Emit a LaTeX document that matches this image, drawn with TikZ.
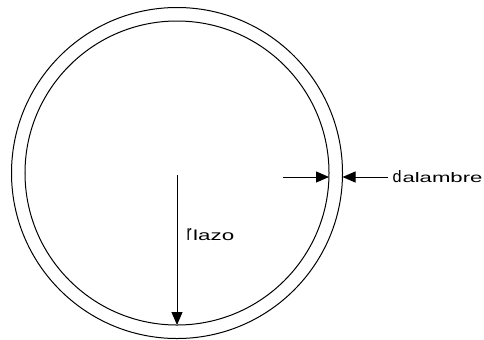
\documentclass[tikz,border=0pt]{standalone}
\usepackage{fontspec}
\setmainfont{Liberation Sans}
\usetikzlibrary{arrows.meta,calc}
\tikzset{
  ring/.style={circle,draw=black,line width=1bp,inner sep=0pt,outer sep=0pt},
  arr/.style={line width=1bp,-{Triangle[length=13bp,width=11bp]}},
  lab/.style={inner sep=0pt}
}
\begin{document}
\begin{tikzpicture}[x=1bp,y=-1bp]
\useasboundingbox[fill=white] (0,0) rectangle (484,339);
\coordinate (c) at (177,173);
\node[ring,minimum size=331bp] (outer) at (c) {};
\node[ring,minimum size=304bp] (inner) at (c) {};
\coordinate (top) at (177,175);
\draw[arr] (top) -- (inner.south);
\coordinate (dl) at (283,177);
\coordinate (dr) at (388,177);
\draw[arr] (dl) -- (dl -| inner.east);
\draw[arr] (dr) -- (dr -| outer.east);
\node[lab,anchor=base west] (rlab) at (186.5,240) {\resizebox{5bp}{12bp}{r}\hspace{1.5bp}\resizebox{41bp}{10.5bp}{lazo}};
\node[lab,anchor=base west] (dlab) at (392.5,182) {\resizebox{9bp}{12bp}{d}\hspace{0.8bp}\resizebox{80bp}{10bp}{alambre}};
\end{tikzpicture}
\end{document}
